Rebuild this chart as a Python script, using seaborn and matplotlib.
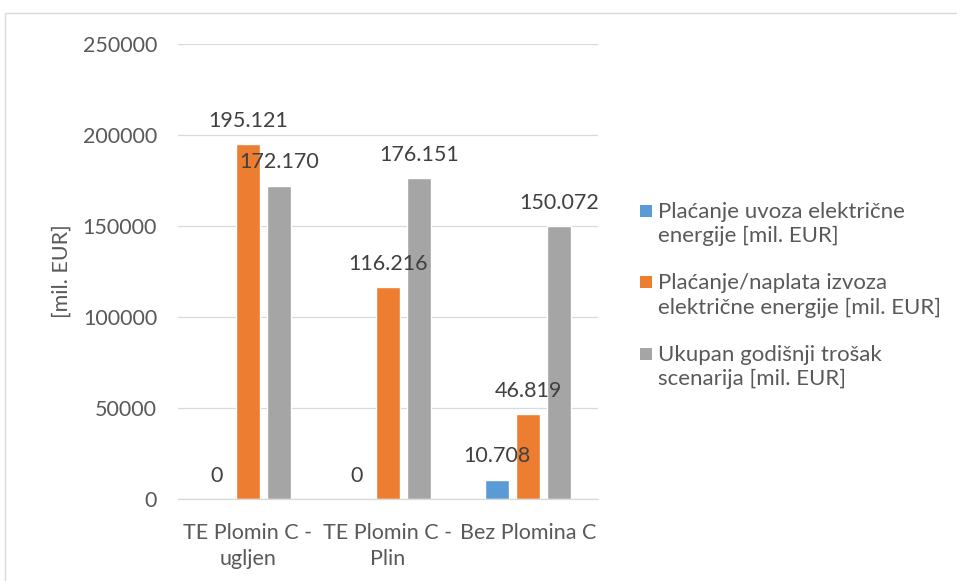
import matplotlib
matplotlib.use("Agg")
import matplotlib.pyplot as plt
import seaborn as sns
import pandas as pd
from matplotlib.patches import Rectangle
from matplotlib.legend_handler import HandlerBase

# ---- data ----
categories = ["TE Plomin C -\nugljen", "TE Plomin C -\nPlin", "Bez Plomina C"]
series_names = [
    "Plaćanje uvoza električne\nenergije [mil. EUR]",
    "Plaćanje/naplata izvoza\nelektrične energije [mil. EUR]",
    "Ukupan godišnji trošak\nscenarija [mil. EUR]",
]
import_vals = [0, 0, 10708]
export_vals = [195121, 116216, 46819]
total_vals = [172170, 176151, 150072]
y_ticks = [0, 50000, 100000, 150000, 200000, 250000]
y_label = "[mil. EUR]"

colors = ["#5B9BD5", "#ED7D31", "#A5A5A5"]

rows = []
for name, vals in zip(series_names, [import_vals, export_vals, total_vals]):
    for c, v in zip(categories, vals):
        rows.append({"scenario": c, "series": name, "value": v})
df = pd.DataFrame(rows)

sns.set_theme(style="white")
FONT = ["Lato", "DejaVu Sans"]
plt.rcParams["font.family"] = FONT

fig = plt.figure(figsize=(9.57, 5.81), dpi=100)
ax = fig.add_axes([178 / 957, 1 - 499 / 581, (598 - 178) / 957, (499 - 44) / 581])

sns.barplot(data=df, x="scenario", y="value", hue="series", order=categories,
            hue_order=series_names, palette=colors, width=0.664, gap=0.23,
            saturation=1, ax=ax, legend=True, errorbar=None)

ax.set_ylim(0, 250000)
ax.set_yticks(y_ticks)
ax.set_yticklabels([str(t) for t in y_ticks])
ax.set_xlim(-0.5, 2.5)
ax.grid(axis="y", color="#D9D9D9", lw=0.9)
ax.set_axisbelow(True)
for s in ["top", "right", "left"]:
    ax.spines[s].set_visible(False)
ax.spines["bottom"].set_color("#D9D9D9")
ax.spines["bottom"].set_linewidth(0.9)
ax.tick_params(axis="both", length=0, labelsize=15.5, labelcolor="#595959")
ax.tick_params(axis="y", pad=15)
ax.tick_params(axis="x", pad=17)
for t in ax.get_xticklabels():
    t.set_linespacing(1.42)
ax.set_xlabel("")
ax.set_ylabel(y_label, fontsize=15.5, color="#595959")
ax.yaxis.set_label_coords(-0.252, 0.5)

def fmt(v):
    return f"{v:,.0f}".replace(",", ".")

for cont, vals in zip(ax.containers, [import_vals, export_vals, total_vals]):
    ax.bar_label(cont, labels=[fmt(v) for v in vals], padding=9.5,
                 fontsize=15.5, color="#404040")

# legend with square aligned to first line
LINE_SHIFT = 11.0

class TopSquare(HandlerBase):
    def create_artists(self, legend, orig_handle, xdescent, ydescent,
                       width, height, fontsize, trans):
        s = 8.8
        r = Rectangle((-xdescent, LINE_SHIFT), s, s,
                      facecolor=orig_handle.get_facecolor(), edgecolor="none",
                      transform=trans)
        return [r]

handles, labels = ax.get_legend_handles_labels()
ax.get_legend().remove()
leg = fig.legend(handles, labels, loc="upper left",
                 bbox_to_anchor=(640 / 957, 1 - 202 / 581),
                 frameon=False, fontsize=16, handlelength=0.55,
                 handletextpad=0.25, labelspacing=1.22, borderpad=0,
                 borderaxespad=0,
                 handler_map={h: TopSquare() for h in handles})
for t in leg.get_texts():
    t.set_color("#595959")
    t.set_linespacing(1.26)

fig.patches.append(Rectangle((5 / 957, -0.1), 2, 1 - 13 / 581 + 0.1,
                             transform=fig.transFigure, fill=False,
                             edgecolor="#D9D9D9", lw=1))

fig.savefig("out.png", dpi=100)
